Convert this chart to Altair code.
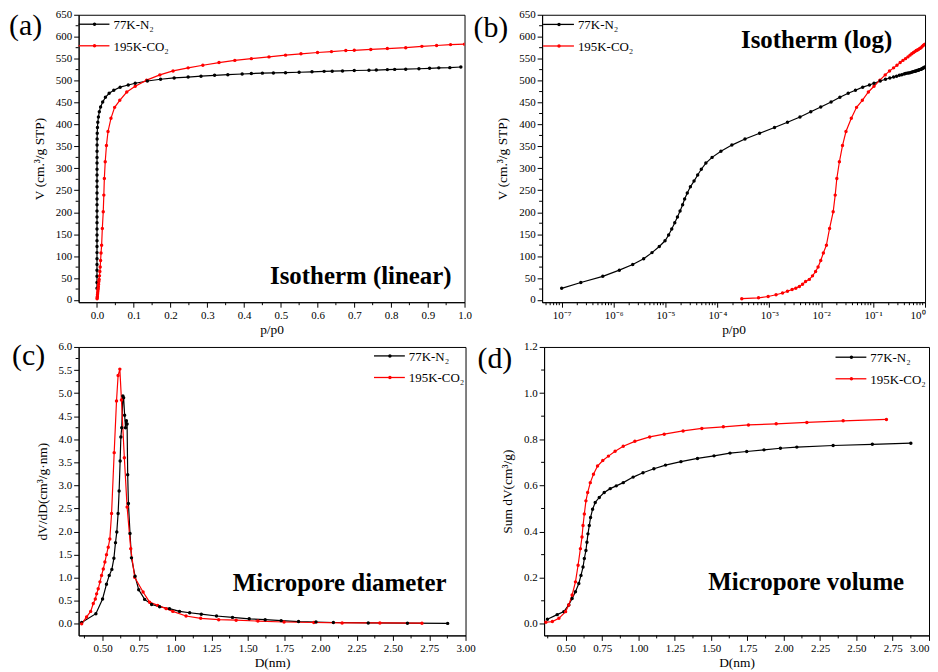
import altair as alt
import pandas as pd

FONT = "Liberation Serif"
BLACK = "#000000"
RED = "#ff0000"
SERIES = ["77K-N\u2082", "195K-CO\u2082"]

# ---------------- (a)/(b) isotherms ----------------
N2_P = [1.0e-7, 2.34e-7, 6.2e-7, 1.29e-6, 2.34e-6, 3.8e-6, 5.5e-6, 7.6e-6, 9.8e-6, 1.15e-5,
        1.32e-5, 1.51e-5, 1.70e-5, 1.91e-5, 2.14e-5, 2.34e-5, 2.63e-5, 3.02e-5, 3.55e-5, 4.17e-5,
        4.9e-5, 6.0e-5, 7.9e-5, 1.17e-4, 1.9e-4, 3.4e-4, 6.5e-4, 1.26e-3, 2.24e-3, 3.9e-3,
        6.3e-3, 9.8e-3, 0.0155, 0.0229, 0.0331, 0.0457, 0.063, 0.085,
        0.104, 0.137, 0.173, 0.21, 0.248, 0.283, 0.32, 0.356, 0.395, 0.42, 0.45, 0.48, 0.513,
        0.55, 0.585, 0.618, 0.64, 0.668, 0.70, 0.74, 0.76, 0.79, 0.81, 0.84, 0.876, 0.905,
        0.93, 0.96, 0.99]
N2_V = [26.6, 40, 54, 68, 81, 94, 108, 122, 135, 148,
        162, 176, 189, 203, 217, 230, 244, 258, 271, 285,
        298, 312, 325, 339, 353, 367, 380, 393, 405, 417,
        429, 440, 451, 462, 471, 478, 485, 490,
        494, 499, 503, 506, 508, 510, 512, 513.5, 515, 516, 517, 517.5, 518,
        519, 520, 521, 521.5, 522, 523, 523.5, 524, 525, 525.5, 526, 527, 528,
        529, 529.5, 531]

CO2_P = [2.95e-4, 6.2e-4, 9.5e-4, 1.35e-3, 1.8e-3, 2.24e-3, 2.75e-3, 3.24e-3, 3.8e-3, 4.37e-3,
         5.0e-3, 5.9e-3, 6.8e-3, 7.8e-3, 8.7e-3, 9.8e-3, 0.011, 0.0126, 0.0145, 0.017,
         0.0186, 0.020, 0.0224, 0.0257, 0.030, 0.038, 0.048, 0.062, 0.081, 0.104,
         0.135, 0.171, 0.207, 0.248, 0.288, 0.332, 0.375, 0.42, 0.468, 0.513, 0.555,
         0.60, 0.638, 0.677, 0.70, 0.745, 0.79, 0.84, 0.884, 0.924, 0.962, 1.0]
CO2_V = [3, 5, 8, 12, 16, 20, 24, 27, 31, 36,
         42, 47, 55, 65, 75, 90, 107, 125, 163, 201,
         239, 277, 315, 352, 384, 414, 439, 455, 474, 487,
         501, 513, 522, 529, 535, 541, 546, 550, 554, 558, 561,
         564, 566, 568.5, 569, 571, 573, 575, 578, 580, 582, 583]

# ---------------- (c) pore size distribution ----------------
PSD_N2_D = [0.356, 0.454, 0.50, 0.527, 0.546, 0.564, 0.578, 0.589, 0.598, 0.607, 0.614, 0.621,
            0.626, 0.632, 0.640, 0.645, 0.652, 0.658, 0.664, 0.669, 0.673, 0.678, 0.689, 0.699,
            0.724, 0.749, 0.79, 0.838, 0.893, 0.961, 1.03, 1.10, 1.18, 1.285, 1.395, 1.51,
            1.62, 1.73, 1.85, 1.97, 2.09, 2.33, 2.60, 2.877]
PSD_N2_Y = [0.03, 0.22, 0.54, 0.86, 1.05, 1.18, 1.42, 1.76, 1.99, 2.39, 2.88, 3.53,
            4.05, 4.25, 4.94, 4.90, 4.52, 4.25, 4.40, 4.33, 3.23, 2.61, 1.96, 1.43,
            1.03, 0.74, 0.53, 0.42, 0.37, 0.33, 0.27, 0.24, 0.21, 0.17, 0.14, 0.11,
            0.09, 0.07, 0.05, 0.04, 0.03, 0.02, 0.015, 0.01]
PSD_CO2_D = [0.356, 0.39, 0.418, 0.436, 0.45, 0.459, 0.47, 0.482, 0.493, 0.505, 0.516, 0.527,
             0.539, 0.55, 0.562, 0.58, 0.596, 0.607, 0.619, 0.63, 0.65, 0.669, 0.694, 0.721,
             0.779, 0.824, 0.88, 0.938, 0.984, 1.075, 1.176, 1.30, 1.42, 1.57, 1.75, 1.955,
             2.15, 2.41, 2.70]
PSD_CO2_Y = [0.0, 0.15, 0.27, 0.44, 0.54, 0.65, 0.76, 0.91, 1.05, 1.19, 1.34, 1.50,
             1.66, 1.84, 2.39, 3.71, 4.83, 5.38, 5.52, 4.85, 3.6, 2.53, 1.63, 1.01,
             0.69, 0.47, 0.40, 0.33, 0.27, 0.17, 0.12, 0.09, 0.08, 0.06, 0.04, 0.03,
             0.02, 0.02, 0.015]

# ---------------- (d) cumulative pore volume ----------------
CUM_N2_D = [0.373, 0.44, 0.486, 0.52, 0.543, 0.566, 0.589, 0.604, 0.618, 0.627, 0.638, 0.645,
            0.652, 0.661, 0.67, 0.684, 0.702, 0.73, 0.764, 0.805, 0.847, 0.895, 0.963, 1.031,
            1.106, 1.186, 1.292, 1.406, 1.52, 1.63, 1.745, 1.864, 1.977, 2.09, 2.34, 2.61, 2.875]
CUM_N2_V = [0.02, 0.04, 0.053, 0.082, 0.11, 0.139, 0.175, 0.21, 0.246, 0.283, 0.318, 0.354,
            0.39, 0.426, 0.461, 0.497, 0.526, 0.548, 0.569, 0.586, 0.598, 0.612, 0.636, 0.655,
            0.672, 0.688, 0.703, 0.717, 0.728, 0.74, 0.747, 0.754, 0.761, 0.766, 0.773, 0.778, 0.783]
CUM_CO2_D = [0.362, 0.407, 0.452, 0.498, 0.52, 0.543, 0.566, 0.584, 0.6, 0.611, 0.618, 0.627,
             0.638, 0.65, 0.668, 0.69, 0.718, 0.754, 0.793, 0.839, 0.895, 0.975, 1.077, 1.177,
             1.307, 1.436, 1.584, 1.757, 1.948, 2.159, 2.409, 2.707]
CUM_CO2_V = [0.007, 0.01, 0.024, 0.053, 0.082, 0.125, 0.182, 0.254, 0.326, 0.376, 0.426, 0.476,
             0.533, 0.569, 0.612, 0.648, 0.684, 0.708, 0.727, 0.748, 0.77, 0.791, 0.81, 0.822,
             0.836, 0.847, 0.854, 0.862, 0.867, 0.873, 0.880, 0.886]

# ---------------- axis ticks ----------------
ISO_Y_TICKS = list(range(0, 651, 50))
ISO_Y_MINOR = list(range(25, 650, 50))
LIN_X_TICKS = [round(0.1 * i, 1) for i in range(11)]
LIN_X_MINOR = [round(0.05 + 0.1 * i, 2) for i in range(10)]
LOG_X_TICKS = [1e-7, 1e-6, 1e-5, 1e-4, 1e-3, 1e-2, 1e-1, 1.0]
LOG_X_MINOR = [m * 10.0 ** k for k in range(-8, 0) for m in range(2, 10) if m * 10.0 ** k > 4.3e-8]
D_X_TICKS = [0.5 + 0.25 * i for i in range(11)]
D_X_MINOR = [0.375 + 0.25 * i for i in range(11)]
PSD_Y_TICKS = [0.5 * i for i in range(13)]
PSD_Y_MINOR = [0.25 + 0.5 * i for i in range(12)]
CUM_Y_TICKS = [round(0.2 * i, 1) for i in range(7)]
CUM_Y_MINOR = [round(0.1 + 0.2 * i, 1) for i in range(6)]

LOG_LABELS = ("['10\u207b\u2077','10\u207b\u2076','10\u207b\u2075','10\u207b\u2074',"
              "'10\u207b\u00b3','10\u207b\u00b2','10\u207b\u00b9','10\u2070']"
              "[round(log(datum.value)/LN10)+7]")

ONE = pd.DataFrame({"k": [0]})


def series_frame(x1, y1, x2, y2):
    rows = []
    for i, (x, y) in enumerate(zip(x1, y1)):
        rows.append({"x": x, "y": y, "s": SERIES[0], "i": i})
    for i, (x, y) in enumerate(zip(x2, y2)):
        rows.append({"x": x, "y": y, "s": SERIES[1], "i": i})
    return pd.DataFrame(rows)


def panel(df, W, H, xscale, yscale, xaxis, yaxis, xminor, yminor,
          letter, letter_xy, label, label_xy, legend_xy):
    color = alt.Color("s:N", scale=alt.Scale(domain=SERIES, range=[BLACK, RED]), legend=None)
    lines = alt.Chart(df).mark_line(
        strokeWidth=1.2, clip=True,
        point=alt.OverlayMarkDef(filled=True, size=12, opacity=1),
    ).encode(
        x=alt.X("x:Q", scale=xscale, axis=xaxis),
        y=alt.Y("y:Q", scale=yscale, axis=yaxis),
        color=color,
        order="i:Q",
    )
    # minor ticks share the field names and axis definitions of the main layer
    ym = alt.Chart(pd.DataFrame({"y": yminor})).mark_rule(color=BLACK, strokeWidth=1).encode(
        y=alt.Y("y:Q", scale=yscale, axis=yaxis), x=alt.value(0), x2=alt.value(-3))
    xm = alt.Chart(pd.DataFrame({"x": xminor})).mark_rule(color=BLACK, strokeWidth=1).encode(
        x=alt.X("x:Q", scale=xscale, axis=xaxis), y=alt.value(H), y2=alt.value(H + 3))
    let = alt.Chart(ONE).mark_text(text=letter, font=FONT, fontSize=30, align="left",
                                   baseline="middle", color=BLACK).encode(
        x=alt.value(letter_xy[0]), y=alt.value(letter_xy[1]))
    lab = alt.Chart(ONE).mark_text(text=label, font=FONT, fontSize=25, fontWeight="bold",
                                   align="right", baseline="alphabetic", color=BLACK).encode(
        x=alt.value(label_xy[0]), y=alt.value(label_xy[1]))
    layers = [lines, ym, xm, let, lab]
    lx, ly = legend_xy
    for j, (name, col) in enumerate(zip(SERIES, [BLACK, RED])):
        yy = ly + 21.7 * j
        layers.append(alt.Chart(ONE).mark_rule(color=col, strokeWidth=1.3).encode(
            x=alt.value(lx), x2=alt.value(lx + 31), y=alt.value(yy)))
        layers.append(alt.Chart(ONE).mark_circle(color=col, size=12, opacity=1).encode(
            x=alt.value(lx + 16), y=alt.value(yy)))
        layers.append(alt.Chart(ONE).mark_text(text=name, font=FONT, fontSize=13, align="left",
                                               baseline="middle", color=BLACK).encode(
            x=alt.value(lx + 35), y=alt.value(yy + 1)))
    return alt.layer(*layers).properties(width=W, height=H)


def yax(title, values, fmt):
    return alt.Axis(title=title, values=values, format=fmt, tickSize=5, labelPadding=2,
                    titlePadding=9, grid=False, labelFlush=False, labelOverlap=False)


def xax(title, values, fmt=None, expr=None, flush=False):
    kw = dict(title=title, values=values, tickSize=5, labelPadding=2, titlePadding=2,
              grid=False, labelFlush=flush, labelOverlap=False)
    if fmt:
        kw["format"] = fmt
    if expr:
        kw["labelExpr"] = expr
    return alt.Axis(**kw)


iso = series_frame(N2_P, N2_V, CO2_P, CO2_V)
psd = series_frame(PSD_N2_D, PSD_N2_Y, PSD_CO2_D, PSD_CO2_Y)
cum = series_frame(CUM_N2_D, CUM_N2_V, CUM_CO2_D, CUM_CO2_V)

ytitle_iso = "V (cm.\u00b3/g STP)"

A = panel(iso, 388, 289,
          alt.Scale(domain=[-0.05, 1.0], nice=False, zero=False),
          alt.Scale(domain=[-5, 650], nice=False, zero=False),
          xax("p/p0", LIN_X_TICKS, ".1f"), yax(ytitle_iso, ISO_Y_TICKS, "d"),
          LIN_X_MINOR, ISO_Y_MINOR,
          "(a)", (-70, 11), "Isotherm (linear)", (375, 271), (0, 9.5))

B = panel(iso, 385, 289,
          alt.Scale(type="log", domain=[4.2e-8, 1.0], nice=False),
          alt.Scale(domain=[-5, 650], nice=False, zero=False),
          xax("p/p0", LOG_X_TICKS, expr=LOG_LABELS, flush=True), yax(ytitle_iso, ISO_Y_TICKS, "d"),
          LOG_X_MINOR, ISO_Y_MINOR,
          "(b)", (-69, 13), "Isotherm (log)", (352, 33), (1, 9.7))

C = panel(psd, 389, 290,
          alt.Scale(domain=[0.335, 3.0], nice=False, zero=False),
          alt.Scale(domain=[-0.25, 6.0], nice=False, zero=False),
          xax("D(nm)", D_X_TICKS, ".2f"), yax("dV/dD(cm\u00b3/g\u00b7nm)", PSD_Y_TICKS, ".1f"),
          D_X_MINOR, PSD_Y_MINOR,
          "(c)", (-67, 9), "Micropore diameter", (370, 245), (297, 9))

D = panel(cum, 387, 290,
          alt.Scale(domain=[0.35, 3.0], nice=False, zero=False),
          alt.Scale(domain=[-0.05, 1.2], nice=False, zero=False),
          xax("D(nm)", D_X_TICKS, ".2f", flush=True), yax("Sum dV(cm\u00b3/g)", CUM_Y_TICKS, ".1f"),
          D_X_MINOR, CUM_Y_MINOR,
          "(d)", (-67, 12), "Micropore volume", (362, 244), (293, 10.3))

chart = alt.vconcat(
    alt.hconcat(A, B, spacing=0),
    alt.hconcat(C, D, spacing=0),
    spacing=4,
).properties(
    padding={"top": -2, "left": 0, "right": 0, "bottom": 0}, background="white"
).configure_view(
    stroke=BLACK, strokeWidth=1
).configure_axis(
    labelFont=FONT, labelFontSize=11, labelColor=BLACK,
    titleFont=FONT, titleFontSize=13.5, titleFontWeight="normal", titleColor=BLACK,
    domainColor=BLACK, tickColor=BLACK, domainWidth=1, tickWidth=1,
)

chart.save("out.html", embed_options={"renderer": "svg", "actions": False})
